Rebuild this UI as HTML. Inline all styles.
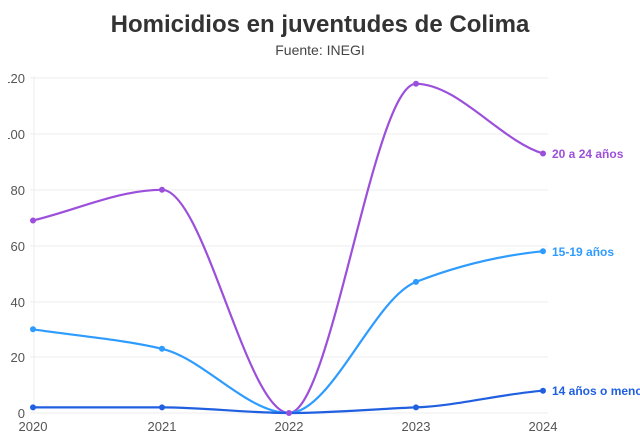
<!DOCTYPE html>
<html><head><meta charset="utf-8"><style>
html,body{margin:0;padding:0;background:#fff;width:640px;height:441px;overflow:hidden}
svg{display:block;font-family:"Liberation Sans",sans-serif}
</style></head><body>
<svg width="640" height="441" viewBox="0 0 640 441">
<text x="320" y="32" text-anchor="middle" font-size="24" font-weight="bold" fill="#333">Homicidios en juventudes de Colima</text>
<text x="320" y="55" text-anchor="middle" font-size="14" fill="#444">Fuente: INEGI</text>
<g stroke="#ececec" stroke-width="1">
<line x1="30" y1="78" x2="548" y2="78"/><line x1="30" y1="134" x2="548" y2="134"/>
<line x1="30" y1="190" x2="548" y2="190"/><line x1="30" y1="246" x2="548" y2="246"/>
<line x1="30" y1="302" x2="548" y2="302"/><line x1="30" y1="357" x2="548" y2="357"/>
<line x1="30" y1="413" x2="548" y2="413"/><line x1="34" y1="76" x2="34" y2="413"/>
</g>
<g font-size="13" fill="#555" text-anchor="end">
<text x="25" y="83">120</text><text x="25" y="139">100</text><text x="25" y="195">80</text>
<text x="25" y="251">60</text><text x="25" y="307">40</text><text x="25" y="362">20</text><text x="25" y="418">0</text>
</g>
<g font-size="13" fill="#555" text-anchor="middle">
<text x="33" y="431">2020</text><text x="162" y="431">2021</text><text x="289" y="431">2022</text><text x="416" y="431">2023</text><text x="543" y="431">2024</text>
</g>
<rect x="0" y="70" width="8" height="360" fill="#fff"/>
<g fill="none" stroke-width="2.2">
<path d="M33,220.5 C76,210.3 119,189.8 162,189.8 C204,189.8 247,413 289,413 C331,413 374,83.8 416,83.8 C458,83.8 501,140.9 543,153.5" stroke="#9b4fdb"/>
<path d="M33,329.3 C76,335.8 119,338.9 162,348.8 C204,358.6 247,413 289,413 C331,413 374,298.3 416,281.9 C458,265.5 501,255.4 543,251.2" stroke="#2e9bff"/>
<path d="M33,407.4 C76,407.4 119,407.4 162,407.4 C204,407.4 247,413 289,413 C331,413 374,409 416,407.4 C458,405.7 501,394 543,390.7" stroke="#1f5fe0"/>
</g>
<g fill="#9b4fdb"><circle cx="33" cy="220.5" r="3"/><circle cx="162" cy="189.8" r="3"/><circle cx="289" cy="413" r="3"/><circle cx="416" cy="83.8" r="3"/><circle cx="543" cy="153.5" r="3"/></g>
<g fill="#2e9bff"><circle cx="33" cy="329.3" r="3"/><circle cx="162" cy="348.8" r="3"/><circle cx="416" cy="281.9" r="3"/><circle cx="543" cy="251.2" r="3"/></g>
<g fill="#1f5fe0"><circle cx="33" cy="407.4" r="3"/><circle cx="162" cy="407.4" r="3"/><circle cx="416" cy="407.4" r="3"/><circle cx="543" cy="390.7" r="3"/></g>
<g font-size="12" font-weight="bold">
<text x="552" y="158" fill="#9b4fdb">20 a 24 años</text>
<text x="552" y="256" fill="#2e9bff">15-19 años</text>
<text x="552" y="395" fill="#1f5fe0">14 años o menos</text>
</g>
</svg>
</body></html>
